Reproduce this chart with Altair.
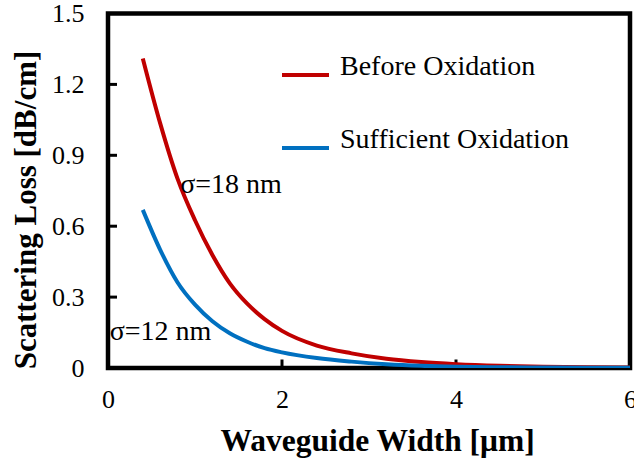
import altair as alt
import pandas as pd

# Data
width_um = [0.4, 0.6, 0.8, 1.0, 1.2, 1.4, 1.6, 1.8, 2.0, 2.4, 2.8, 3.2, 3.6, 4.0, 4.5, 5.0, 5.5, 6.0]
before_ox = [1.31, 1.035, 0.80, 0.625, 0.478, 0.358, 0.272, 0.207, 0.157, 0.095, 0.062, 0.039, 0.025, 0.016, 0.009, 0.005, 0.003, 0.002]
sufficient_ox = [0.669, 0.50, 0.362, 0.268, 0.198, 0.147, 0.111, 0.084, 0.066, 0.042, 0.027, 0.016, 0.009, 0.005, 0.003, 0.002, 0.001, 0.001]
series_names = ["Before Oxidation", "Sufficient Oxidation"]
series_colors = ["#C00000", "#0070C0"]

x_ticks = [0, 2, 4, 6]
y_ticks = [0, 0.3, 0.6, 0.9, 1.2, 1.5]
inner_x_ticks = [2, 4]
inner_y_ticks = [0.3, 0.6, 0.9, 1.2]

annot_text = ["σ=18 nm", "σ=12 nm"]
annot_x = [0.83, 0.02]
annot_y = [0.774, 0.152]

FONT = "Liberation Serif"

rows = []
for w, v in zip(width_um, before_ox):
    rows.append({"w": w, "loss": v, "series": series_names[0]})
for w, v in zip(width_um, sufficient_ox):
    rows.append({"w": w, "loss": v, "series": series_names[1]})
df = pd.DataFrame(rows)

xscale = alt.Scale(domain=[0, 6], nice=False, zero=False)
yscale = alt.Scale(domain=[0, 1.5], nice=False)

lines = alt.Chart(df).mark_line(strokeWidth=4, interpolate="monotone", clip=True).encode(
    x=alt.X("w:Q", scale=xscale,
            axis=alt.Axis(title="Waveguide Width [μm]", values=x_ticks, tickSize=0, domain=False, grid=False,
                          format="d", labelFlush=False,
                          labelFont=FONT, labelFontSize=26, labelColor="black", labelPadding=18,
                          titleFont=FONT, titleFontSize=31.5, titleFontWeight="bold", titleColor="black",
                          titlePadding=13, titleX=269)),
    y=alt.Y("loss:Q", scale=yscale,
            axis=alt.Axis(title="Scattering Loss [dB/cm]", values=y_ticks, tickSize=0, domain=False, grid=False,
                          labelExpr="datum.value == 0 ? '0' : format(datum.value, '.1f')",
                          labelFont=FONT, labelFontSize=26, labelColor="black", labelPadding=24,
                          titleFont=FONT, titleFontSize=31, titleFontWeight="bold", titleColor="black",
                          titlePadding=9, titleY=196)),
    color=alt.Color("series:N", scale=alt.Scale(domain=series_names, range=series_colors),
                    legend=alt.Legend(title=None, orient="none", legendX=172, legendY=36,
                                      symbolType="stroke", symbolSize=2209, symbolStrokeWidth=4,
                                      labelFont=FONT, labelFontSize=28, labelColor="black", labelLimit=500,
                                      labelBaseline="alphabetic",
                                      labelOffset=9, rowPadding=39, padding=0)),
)

ytick_df = pd.DataFrame({"v": inner_y_ticks})
ytick_marks = alt.Chart(ytick_df).mark_rule(color="black", strokeWidth=3).encode(
    y=alt.Y("v:Q", scale=yscale), x=alt.value(0), x2=alt.value(9)
)
xtick_df = pd.DataFrame({"v": inner_x_ticks})
xtick_marks = alt.Chart(xtick_df).mark_rule(color="black", strokeWidth=3).encode(
    x=alt.X("v:Q", scale=xscale), y=alt.value(354.5), y2=alt.value(346)
)

ann_df = pd.DataFrame({"t": annot_text, "x": annot_x, "y": annot_y})
annots = alt.Chart(ann_df).mark_text(font=FONT, fontSize=28, align="left", baseline="middle", color="black").encode(
    x=alt.X("x:Q", scale=xscale), y=alt.Y("y:Q", scale=yscale), text="t:N"
)

chart = alt.layer(ytick_marks, xtick_marks, lines, annots).properties(
    width=522, height=354.5,
    autosize=alt.AutoSizeParams(type="none"),
    padding={"left": 108, "top": 13.5, "right": 4, "bottom": 98},
    background="white",
).configure_view(stroke="black", strokeWidth=4.5)

chart.save("out.html", embed_options={"renderer": "svg", "actions": False})
